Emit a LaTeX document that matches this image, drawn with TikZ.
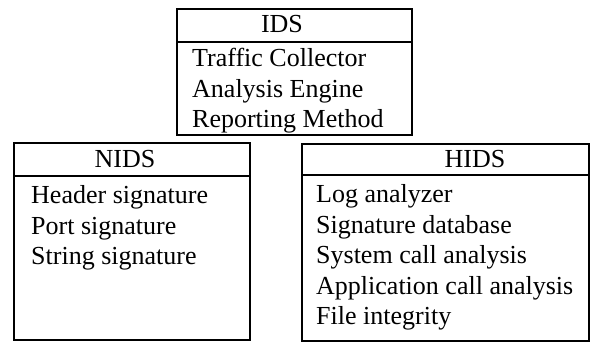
\documentclass[tikz,border=0pt]{standalone}
\usepackage{fontspec}
\setmainfont{Liberation Serif}

\tikzset{
  box/.style={draw, line width=1.3pt},
  title/.style={anchor=base, inner sep=0pt, font=\fontsize{26}{31}\selectfont},
  item/.style={anchor=base west, inner sep=0pt, font=\fontsize{26}{31}\selectfont}
}

\begin{document}
\begin{tikzpicture}[x=1pt, y=-1pt]

\useasboundingbox (0,0) rectangle (590,342);

% IDS
\draw[box] (177, 9) rectangle (412, 135);
\draw[box] (177, 42)--(412, 42);
\node[title] (ids) at (282, 33) {IDS};
\foreach \t [count=\i] in {Traffic Collector, Analysis Engine, Reporting Method}
  \node[item] (ids\i) at (192, {67 + 30.5*(\i-1)}) {\t};

% NIDS
\draw[box] (14, 143) rectangle (250, 340);
\draw[box] (14, 176)--(250, 176);
\node[title] (nids) at (125, 168) {NIDS};
\foreach \t [count=\i] in {Header signature, Port signature, String signature}
  \node[item] (nids\i) at (31, {204 + 30.5*(\i-1)}) {\t};

% HIDS
\draw[box] (302, 144) rectangle (589, 341);
\draw[box] (302, 175)--(589, 175);
\node[title] (hids) at (475, 168) {HIDS};
\foreach \t [count=\i] in {Log analyzer, Signature database, System call analysis, Application call analysis, File integrity}
  \node[item] (hids\i) at (316, {203 + 30.5*(\i-1)}) {\t};

\end{tikzpicture}
\end{document}
